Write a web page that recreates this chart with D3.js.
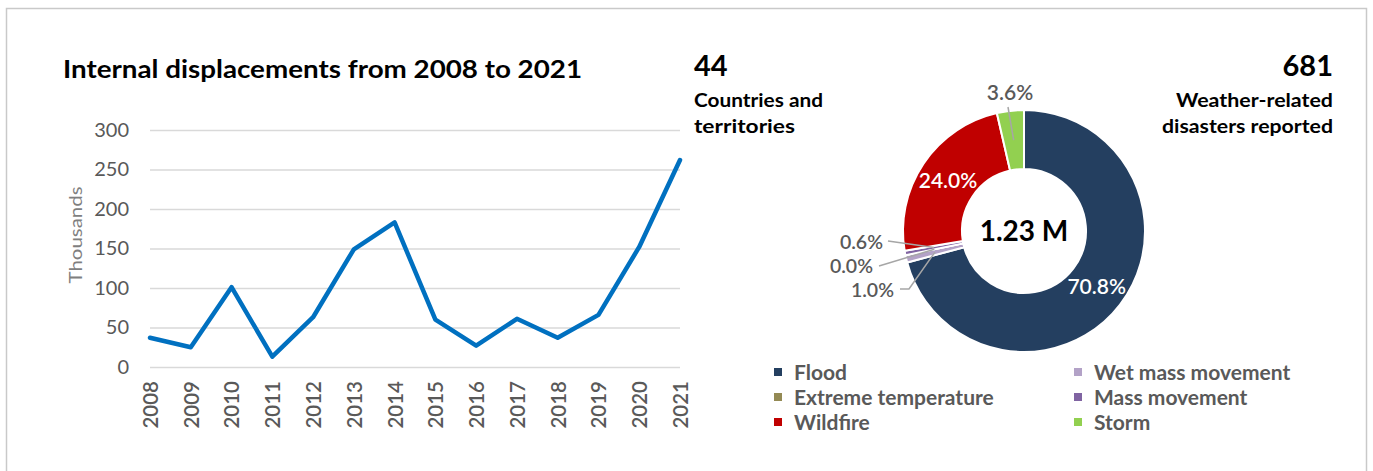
<!DOCTYPE html>
<html>
<head>
<meta charset="utf-8">
<script src="https://cdn.jsdelivr.net/npm/d3@7"></script>
<style>
  html, body { margin: 0; padding: 0; background: #fff; }
  svg { display: block; font-family: Lato, "Open Sans", sans-serif; }
</style>
</head>
<body>
<script>
// ---- data ----
const years = ["2008","2009","2010","2011","2012","2013","2014","2015","2016","2017","2018","2019","2020","2021"];
const displacements = [37, 25, 101, 13, 63, 149, 183, 60, 27, 61, 37, 66, 152, 262]; // thousands
const yTicks = [0, 50, 100, 150, 200, 250, 300];

const hazards = ["Flood", "Wet mass movement", "Extreme temperature", "Mass movement", "Wildfire", "Storm"];
const shares = [70.8, 1.0, 0.0, 0.6, 24.0, 3.6]; // percent of displacements
const hazardColors = ["#243F60", "#B3A2C7", "#948A54", "#8064A2", "#C00000", "#92D050"];

const totalLabel = "1.23 M";
const countriesCount = "44";
const disastersCount = "681";

// ---- layout ----
const W = 1373, H = 471;
const svg = d3.select("body").append("svg").attr("width", W).attr("height", H);

function fit(sel, w) { return sel.attr("textLength", w).attr("lengthAdjust", "spacingAndGlyphs"); }

// frame
svg.append("rect")
  .attr("x", 6.5).attr("y", 8.5).attr("width", 1360).attr("height", 500)
  .attr("fill", "none").attr("stroke", "#c9c9c9").attr("stroke-width", 1.5);

// ---- line chart ----
const title = svg.append("text")
  .attr("x", 63).attr("y", 78)
  .attr("font-size", 25).attr("font-weight", 700).attr("fill", "#000")
  .text("Internal displacements from 2008 to 2021");
fit(title, 519);

const x = d3.scalePoint().domain(years).range([150, 680]);
const y = d3.scaleLinear().domain([0, 300]).range([367, 130]);

const yAxis = svg.append("g")
  .attr("transform", `translate(150,0)`)
  .call(d3.axisLeft(y).tickValues(yTicks).tickSize(-530).tickPadding(21));
yAxis.select(".domain").remove();
yAxis.selectAll(".tick line").attr("stroke", "#d9d9d9").attr("stroke-width", 1.5);
yAxis.selectAll(".tick text")
  .attr("font-family", "Lato, 'Open Sans', sans-serif")
  .attr("font-size", 20).attr("fill", "#595959");

const xAxis = svg.append("g")
  .attr("transform", `translate(0,367)`)
  .call(d3.axisBottom(x).tickSize(0).tickPadding(0));
xAxis.select(".domain").remove();
xAxis.selectAll(".tick text")
  .attr("font-family", "Lato, 'Open Sans', sans-serif")
  .attr("font-size", 20.5).attr("fill", "#595959").attr("font-weight", 600)
  .attr("transform", "rotate(-90)")
  .attr("text-anchor", "end")
  .attr("x", -14).attr("y", 0).attr("dy", "0.36em");

const yTitle = svg.append("text")
  .attr("transform", "translate(82,235) rotate(-90)")
  .attr("text-anchor", "middle")
  .attr("font-size", 17).attr("fill", "#7f7f7f")
  .text("Thousands");
fit(yTitle, 97);

const series = years.map((yr, i) => ({ year: yr, value: displacements[i] }));
svg.append("path")
  .datum(series)
  .attr("fill", "none")
  .attr("stroke", "#0070C0")
  .attr("stroke-width", 4.5)
  .attr("stroke-linejoin", "round")
  .attr("stroke-linecap", "round")
  .attr("d", d3.line().x(d => x(d.year)).y(d => y(d.value)));

// ---- headline figures ----
svg.append("text").attr("x", 694).attr("y", 76)
  .attr("font-size", 29).attr("font-weight", 700).attr("fill", "#000").text(countriesCount);
fit(svg.append("text").attr("x", 694).attr("y", 107)
  .attr("font-size", 18).attr("font-weight", 700).attr("fill", "#000").text("Countries and"), 129);
fit(svg.append("text").attr("x", 694).attr("y", 133)
  .attr("font-size", 18).attr("font-weight", 700).attr("fill", "#000").text("territories"), 101);

svg.append("text").attr("x", 1333).attr("y", 76).attr("text-anchor", "end")
  .attr("font-size", 29).attr("font-weight", 700).attr("fill", "#000").text(disastersCount);
fit(svg.append("text").attr("x", 1333).attr("y", 107).attr("text-anchor", "end")
  .attr("font-size", 18).attr("font-weight", 700).attr("fill", "#000").text("Weather-related"), 157);
fit(svg.append("text").attr("x", 1333).attr("y", 133).attr("text-anchor", "end")
  .attr("font-size", 18).attr("font-weight", 700).attr("fill", "#000").text("disasters reported"), 171);

// ---- donut ----
const cx = 1024, cy = 231, rIn = 62, rOut = 121;
const slices = hazards.map((h, i) => ({ name: h, value: shares[i], color: hazardColors[i] }));
const pie = d3.pie().sort(null).value(d => d.value);
const arcs = pie(slices);
const arc = d3.arc().innerRadius(rIn).outerRadius(rOut);

const donut = svg.append("g").attr("transform", `translate(${cx},${cy})`);
donut.selectAll("path.slice")
  .data(arcs)
  .join("path")
  .attr("class", "slice")
  .attr("d", arc)
  .attr("fill", d => d.data.color)
  .attr("stroke", "#fff")
  .attr("stroke-width", 2)
  .attr("stroke-linejoin", "round");

donut.append("text")
  .attr("x", 0).attr("y", 0).attr("dy", "0.36em")
  .attr("text-anchor", "middle")
  .attr("font-size", 28).attr("font-weight", 700).attr("fill", "#000")
  .text(totalLabel);

const fmt = v => d3.format(".1f")(v) + "%";

// label placement per slice: inside at the centroid, or outside with a leader line
const labelPlacement = {
  "Flood":               { inside: true },
  "Wildfire":            { inside: true },
  "Storm":               { dx: -14, dy: -139, anchor: "middle", size: 21, leader: [[-16, -124]] },
  "Mass movement":       { dx: -141, dy: 11, anchor: "end", size: 19.5, leader: [[-136, 10]] },
  "Extreme temperature": { dx: -151, dy: 35, anchor: "end", size: 19.5, leader: [[-145, 35]] },
  "Wet mass movement":   { dx: -130, dy: 59, anchor: "end", size: 19.5, leader: [[-124, 58], [-115, 58]] }
};

arcs.forEach(a => {
  const p = labelPlacement[a.data.name];
  const [mx, my] = arc.centroid(a);
  if (p.inside) {
    donut.append("text")
      .attr("x", mx).attr("y", my).attr("dy", "0.36em")
      .attr("text-anchor", "middle")
      .attr("font-size", 21).attr("font-weight", 600).attr("fill", "#fff")
      .text(fmt(a.data.value));
  } else {
    const pts = p.leader.concat([[mx, my]]);
    donut.append("path")
      .attr("d", d3.line()(pts))
      .attr("fill", "none").attr("stroke", "#a6a6a6").attr("stroke-width", 1.5);
    donut.append("text")
      .attr("x", p.dx).attr("y", p.dy).attr("dy", "0.36em")
      .attr("text-anchor", p.anchor)
      .attr("font-size", p.size).attr("font-weight", 600).attr("fill", "#595959")
      .text(fmt(a.data.value));
  }
});

// ---- legend (two columns, filled row by row) ----
const legendCols = [778, 1078];
const legendRows = [372, 397, 422];
const legend = svg.append("g");
slices.forEach((s, i) => {
  const lx = legendCols[i % 2], ly = legendRows[Math.floor(i / 2)];
  legend.append("rect")
    .attr("x", lx - 4).attr("y", ly - 4).attr("width", 8).attr("height", 8)
    .attr("fill", s.color);
  legend.append("text")
    .attr("x", lx + 16).attr("y", ly).attr("dy", "0.36em")
    .attr("font-size", 21).attr("font-weight", 700).attr("fill", "#595959")
    .text(s.name);
});
</script>
</body>
</html>
